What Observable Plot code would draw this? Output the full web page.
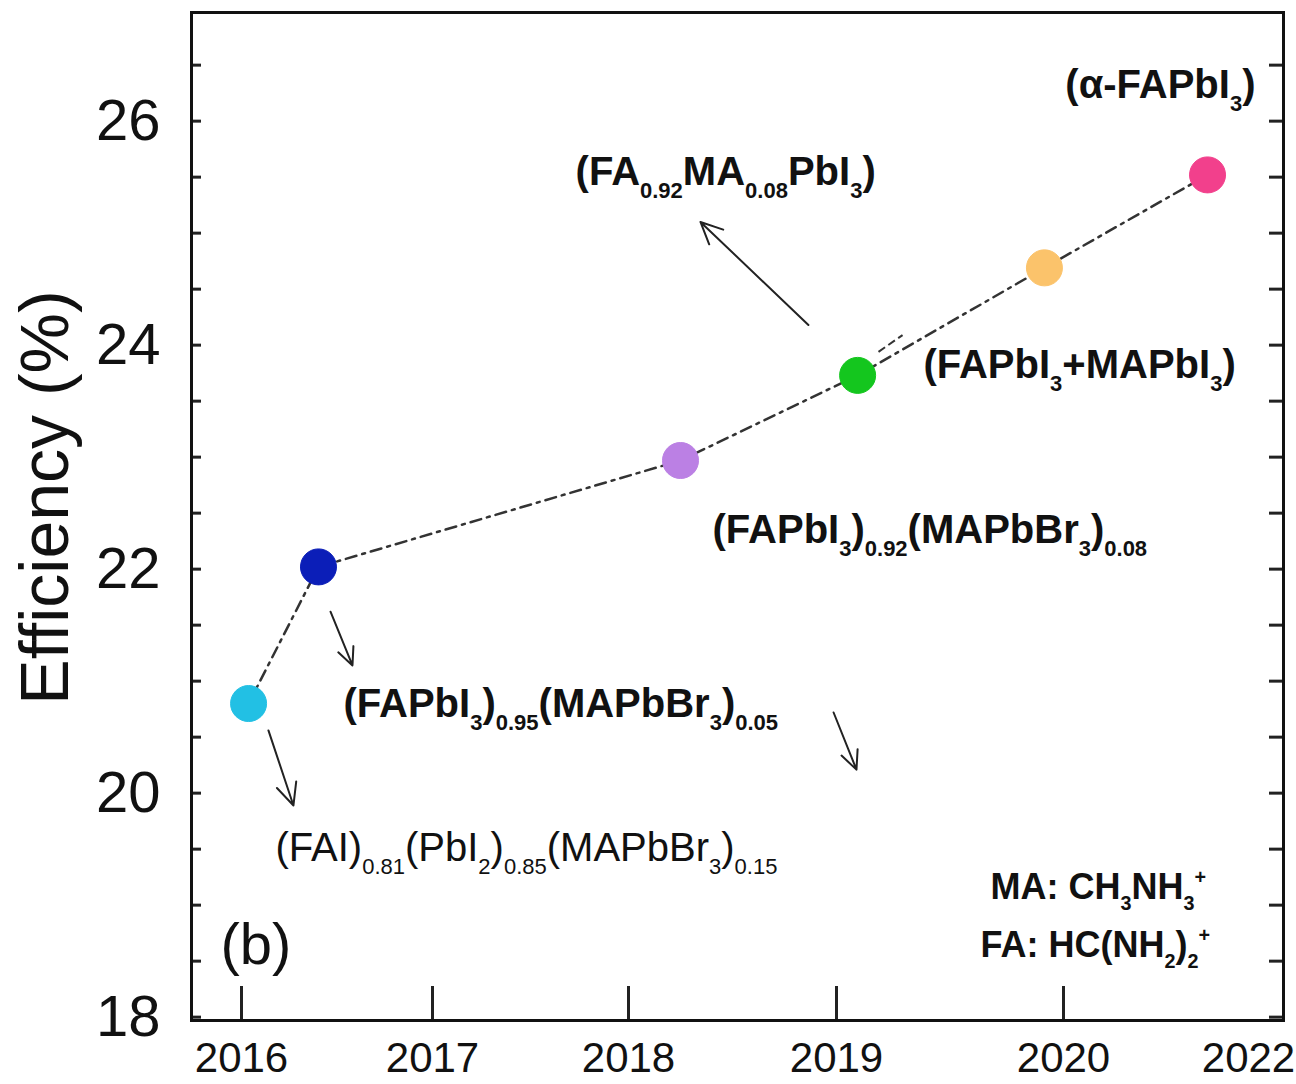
<!DOCTYPE html>
<html>
<head>
<meta charset="utf-8">
<script src="https://cdn.jsdelivr.net/npm/d3@7"></script>
<script src="https://cdn.jsdelivr.net/npm/@observablehq/plot@0.6"></script>
<style>
  html, body { margin: 0; padding: 0; background: #fff; }
  #chart svg { display: block; }
</style>
</head>
<body>
<div id="chart"></div>
<script>
// ---- data ----
const years = [2016.037, 2016.403, 2018.25, 2019.093, 2019.916, 2021.557];
const efficiency = [20.80, 22.02, 22.97, 23.73, 24.69, 25.52];
const pointColors = ["#22c0e4", "#0b1eb8", "#bb80e4", "#14c61e", "#fbc36b", "#f2408c"];

const xTickValues = [2016, 2017, 2018, 2019, 2020, 2022];
const xTickMarks = [2016, 2017, 2018, 2019, 2020];
const yTickValues = [18, 20, 22, 24, 26];
const yMinorTicks = [18, 18.5, 19, 19.5, 20, 20.5, 21, 21.5, 22, 22.5, 23, 23.5, 24, 24.5, 25, 25.5, 26, 26.5];

const labelTexts = [
  "(FAI)_{0.81}(PbI_{2})_{0.85}(MAPbBr_{3})_{0.15}",
  "(FAPbI_{3})_{0.95}(MAPbBr_{3})_{0.05}",
  "(FAPbI_{3})_{0.92}(MAPbBr_{3})_{0.08}",
  "(FA_{0.92}MA_{0.08}PbI_{3})",
  "(FAPbI_{3}+MAPbI_{3})",
  "(α-FAPbI_{3})"
];
const labelX = [2016.178, 2016.534, 2018.404, 2017.73, 2019.383, 2020.02];
const labelY = [19.51, 20.79, 22.35, 25.54, 23.82, 26.32];
const labelBold = [false, true, true, true, true, true];

const noteTexts = ["MA: CH_{3}NH_{3}^{+}", "FA: HC(NH_{2})_{2}^{+}"];
const noteX = [2019.678, 2019.634];
const noteY = [19.16, 18.64];

const arrowX1 = [2016.141, 2016.466, 2018.986, 2018.865];
const arrowY1 = [20.56, 21.62, 20.72, 24.18];
const arrowX2 = [2016.272, 2016.581, 2019.088, 2018.346];
const arrowY2 = [19.89, 21.14, 20.21, 25.10];

const linkX1 = [2019.185];
const linkY1 = [23.94];
const linkX2 = [2019.291];
const linkY2 = [24.09];

const panelTag = ["(b)"];
const panelX = [2015.89];
const panelY = [18.64];

// ---- tables built from the arrays ----
const points = years.map((x, i) => ({x, y: efficiency[i], color: pointColors[i]}));
const labels = labelTexts.map((t, i) => ({t, x: labelX[i], y: labelY[i], bold: labelBold[i]}));
const notes = noteTexts.map((t, i) => ({t, x: noteX[i], y: noteY[i]}));
const arrows = arrowX1.map((x1, i) => ({x1, y1: arrowY1[i], x2: arrowX2[i], y2: arrowY2[i]}));
const links = linkX1.map((x1, i) => ({x1, y1: linkY1[i], x2: linkX2[i], y2: linkY2[i]}));

const W = 1296, H = 1084;
const mL = 191, mR = 13, mT = 12, mB = 64;
const plotW = W - mL - mR, plotH = H - mT - mB;

const chart = Plot.plot({
  width: W,
  height: H,
  marginLeft: mL,
  marginRight: mR,
  marginTop: mT,
  marginBottom: mB,
  style: {fontFamily: "'Liberation Sans', Arial, sans-serif", background: "#fff", color: "#111"},
  x: {
    type: "linear",
    domain: [2015.738, 2016, 2017, 2018, 2019, 2020, 2022, 2022.378],
    range: [191, 241, 432, 628, 836, 1063, 1248, 1283],
    label: null
  },
  y: {domain: [17.97, 26.97], label: null},
  color: {type: "identity"},
  marks: [
    // inward ticks
    Plot.tickY(yMinorTicks, {y: d => d, insetRight: plotW - 10, stroke: "#222", strokeWidth: 3}),
    Plot.tickY(yMinorTicks, {y: d => d, insetLeft: plotW - 14, stroke: "#222", strokeWidth: 3}),
    Plot.tickX(xTickMarks, {x: d => d, insetTop: plotH - 34, stroke: "#222", strokeWidth: 3}),
    Plot.frame({stroke: "#111", strokeWidth: 3}),
    Plot.axisX({ticks: xTickValues, tickFormat: "d", tickSize: 0, tickPadding: 22, fontSize: 42, label: null}),
    Plot.axisY({ticks: yTickValues, tickSize: 0, tickPadding: 31, fontSize: 58, label: null}),
    // y axis title
    Plot.text(["Efficiency (%)"], {frameAnchor: "left", text: d => d, textAnchor: "middle", rotate: -90, dx: -145, dy: -19, fontSize: 68, fill: "#111"}),
    // dash-dot trend line
    Plot.line(points, {x: "x", y: "y", stroke: "#333", strokeWidth: 2.5, strokeDasharray: "11,6,3,6"}),
    // points
    Plot.dot(points, {x: "x", y: "y", r: 18, fill: "color", stroke: "color", strokeWidth: 1}),
    // annotation arrows
    Plot.arrow(arrows, {x1: "x1", y1: "y1", x2: "x2", y2: "y2", stroke: "#222", strokeWidth: 2, headLength: 18, headAngle: 50}),
    Plot.link(links, {x1: "x1", y1: "y1", x2: "x2", y2: "y2", stroke: "#333", strokeWidth: 2, strokeDasharray: "8,4"}),
    // labels
    Plot.text(labels.filter(d => d.bold), {x: "x", y: "y", text: "t", textAnchor: "start", fontSize: 40, fontWeight: "bold", fill: "#111"}),
    Plot.text(labels.filter(d => !d.bold), {x: "x", y: "y", text: "t", textAnchor: "start", fontSize: 40, fill: "#111"}),
    Plot.text(notes, {x: "x", y: "y", text: "t", textAnchor: "start", fontSize: 36, fontWeight: "bold", fill: "#111"}),
    Plot.text(panelTag.map((t, i) => ({t, x: panelX[i], y: panelY[i]})), {x: "x", y: "y", text: "t", textAnchor: "start", fontSize: 58, fill: "#111"})
  ]
});

document.getElementById("chart").appendChild(chart);

// turn _{...} / ^{...} markup into sub/superscript tspans
const NS = "http://www.w3.org/2000/svg";
chart.querySelectorAll("text").forEach(el => {
  const s = el.textContent;
  if (!/[_^]\{/.test(s)) return;
  const fs = parseFloat(getComputedStyle(el).fontSize) || 40;
  el.textContent = "";
  const re = /([_^])\{([^}]*)\}|([^_^]+)/g;
  let m, shift = 0;
  while ((m = re.exec(s))) {
    const t = document.createElementNS(NS, "tspan");
    let target = 0;
    if (m[1] === "_") { target = 0.32 * fs; t.textContent = m[2]; t.setAttribute("font-size", 0.55 * fs); }
    else if (m[1] === "^") { target = -0.42 * fs; t.textContent = m[2]; t.setAttribute("font-size", 0.55 * fs); }
    else { target = 0; t.textContent = m[3]; }
    t.setAttribute("dy", target - shift);
    shift = target;
    el.appendChild(t);
  }
});
</script>
</body>
</html>
